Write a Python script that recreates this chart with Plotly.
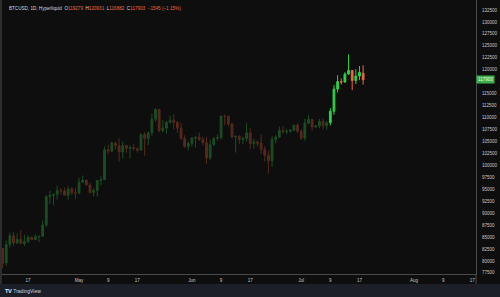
import plotly.graph_objects as go
import pandas as pd

dates = pd.date_range("2025-04-10", "2025-07-18", freq="D").strftime("%Y-%m-%d").tolist()

opens = [82580, 79600, 83420, 85280, 83740, 84540, 83630, 84030, 84940, 84450,
         85060, 85170, 87520, 93440, 93700, 93950, 94720, 94650, 93750, 95040,
         94260, 94170, 96490, 96910, 95890, 94310, 94750, 96830, 97030, 103240,
         102970, 104660, 104120, 102810, 104170, 103540, 103740, 103490, 103170, 106450,
         105600, 106790, 109660, 111690, 107290, 107800, 108990, 109440, 108960, 107790,
         105640, 103980, 104610, 105700, 105890, 105410, 104730, 101540, 104350, 105640,
         105760, 110290, 110240, 108670, 105930, 106100, 105430, 105600, 106800, 104570,
         104880, 104650, 103300, 102120, 100960, 105400, 105910, 107320, 107000, 107110,
         107350, 108380, 107140, 105700, 108850, 109620, 108020, 108240, 109210, 108290,
         108940, 111310, 115950, 117520, 117420, 119090, 119840, 117740, 118680, 119279]
highs = [82700, 84250, 85900, 86100, 85800, 86500, 85500, 85450, 85100, 85600,
         85300, 88460, 93820, 94690, 94000, 95760, 95250, 95350, 95620, 95460,
         95250, 97420, 97880, 96950, 96300, 95200, 96900, 97700, 104000, 104300,
         104970, 104940, 105720, 104980, 104280, 104150, 104530, 103710, 106630, 107000,
         107100, 110780, 111970, 111800, 109500, 109300, 110400, 110720, 109300, 108890,
         106300, 104980, 105880, 105960, 106850, 106000, 105930, 105370, 105960, 106490,
         110450, 110590, 110390, 108800, 106180, 106220, 105990, 108900, 107770, 105570,
         105200, 106500, 104040, 103000, 106090, 106300, 108100, 108230, 107660, 107580,
         108520, 108790, 107540, 109770, 110570, 109740, 108420, 109740, 109720, 109220,
         111950, 116800, 118850, 118200, 119470, 123220, 119940, 120090, 120780, 120931]
lows = [78450, 78950, 82770, 83050, 83680, 83600, 83100, 83750, 84350, 84350,
        83950, 85140, 87080, 91940, 91660, 92880, 93900, 93600, 92800, 93750,
        92900, 94110, 96340, 95780, 94140, 93520, 93420, 95800, 96890, 102340,
        102830, 103360, 100780, 101460, 102660, 101390, 103120, 102640, 103100, 102050,
        104220, 106150, 109180, 106880, 106880, 106630, 108700, 107570, 106850, 105350,
        103650, 103130, 103910, 103730, 105090, 104170, 100380, 101170, 103990, 105080,
        105380, 108360, 108160, 105650, 102680, 104410, 104510, 104970, 103380, 103520,
        103900, 102330, 100850, 98250, 99640, 104600, 105760, 106600, 106500, 106820,
        107200, 106750, 105270, 105150, 108600, 107280, 107800, 107820, 107500, 107460,
        108360, 110600, 115230, 116920, 117260, 118920, 115740, 117010, 117830, 116882]
closes = [79600, 83420, 85280, 83740, 84540, 83630, 84030, 84940, 84450, 85060,
          85170, 87520, 93440, 93700, 93950, 94720, 94650, 93750, 95040, 94260,
          94170, 96490, 96910, 95890, 94310, 94750, 96830, 97030, 103240, 102970,
          104660, 104120, 102810, 104170, 103540, 103740, 103490, 103170, 106450, 105600,
          106790, 109660, 111690, 107290, 107800, 108990, 109440, 108960, 107790, 105640,
          103980, 104610, 105700, 105890, 105410, 104730, 101540, 104350, 105640, 105760,
          110290, 110240, 108670, 105930, 106100, 105430, 105600, 106800, 104570, 104880,
          104650, 103300, 102120, 100960, 105400, 105910, 107320, 107000, 107110, 107350,
          108380, 107140, 105700, 108850, 109620, 108020, 108240, 109210, 108290, 108940,
          111310, 115950, 117520, 117420, 119090, 119840, 117740, 118680, 119448, 117903]

x_tickvals = ["2025-04-17", "2025-05-01", "2025-05-09", "2025-05-17", "2025-06-01",
              "2025-06-09", "2025-06-17", "2025-07-01", "2025-07-09", "2025-07-17",
              "2025-08-01", "2025-08-09", "2025-08-17"]
x_ticktext = ["17", "May", "9", "17", "Jun", "9", "17", "Jul", "9", "17", "Aug", "9", "17"]
y_tickvals = [v for v in range(77500, 132501, 2500) if v != 117500]  # 117500 hidden under price label
y_ticktext = [str(v) for v in y_tickvals]

title_parts = [("BTCUSD, 1D, Hyperliquid  ", "#d1d4dc"),
               ("O", "#d1d4dc"), ("119279  ", "#f0653f"),
               ("H", "#d1d4dc"), ("120931  ", "#f0653f"),
               ("L", "#d1d4dc"), ("116882  ", "#f0653f"),
               ("C", "#d1d4dc"), ("117903  −1545 (−1.15%)", "#f0653f")]

split = 90  # index where bright (recent) candles start (Jul 9)

BG = "#0e0e0e"
FONT = "Liberation Sans, Arial, sans-serif"

fig = go.Figure()
fig.add_trace(go.Candlestick(
    x=dates[:split], open=opens[:split], high=highs[:split], low=lows[:split], close=closes[:split],
    increasing=dict(line=dict(color="#1b4d23", width=1), fillcolor="#1b4d23"),
    decreasing=dict(line=dict(color="#56291e", width=1), fillcolor="#56291e"),
    whiskerwidth=0, showlegend=False, hoverinfo="skip"))
fig.add_trace(go.Candlestick(
    x=dates[split:], open=opens[split:], high=highs[split:], low=lows[split:], close=closes[split:],
    increasing=dict(line=dict(color="#2bd14a", width=1), fillcolor="#2bd14a"),
    decreasing=dict(line=dict(color="#f0653f", width=1), fillcolor="#f0653f"),
    whiskerwidth=0, showlegend=False, hoverinfo="skip"))

title_html = "".join(f'<span style="color:{c}">{t}</span>' for t, c in title_parts)

fig.update_layout(
    width=500, height=297,
    margin=dict(l=0, r=24, t=0, b=23),
    paper_bgcolor=BG, plot_bgcolor=BG,
    font=dict(family=FONT, size=5, color="#c8c8c8"),
    xaxis=dict(
        type="date", range=["2025-04-09 07:00", "2025-08-18"],
        rangeslider=dict(visible=False),
        tickmode="array", tickvals=x_tickvals, ticktext=x_ticktext,
        showgrid=False, zeroline=False, showline=True, linecolor="#4a4a4a", linewidth=1,
        ticks="", tickfont=dict(size=4.5, color="#c8c8c8"), ticklabelstandoff=2,
    ),
    yaxis=dict(
        side="right", range=[77270, 134590],
        tickmode="array", tickvals=y_tickvals, ticktext=y_ticktext,
        showgrid=False, zeroline=False, showline=True, linecolor="#4a4a4a", linewidth=1,
        ticks="", tickfont=dict(size=4.5, color="#c8c8c8"), ticklabelstandoff=4,
    ),
    shapes=[
        dict(type="rect", xref="paper", yref="paper", x0=-0.01, x1=1.06, y0=-0.0365, y1=-0.09,
             fillcolor="#1c1f27", line=dict(width=0), layer="below"),
        dict(type="line", xref="paper", yref="paper", x0=1, x1=1, y0=0, y1=-0.0365,
             line=dict(color="#4a4a4a", width=1)),
        dict(type="line", xref="paper", yref="paper", x0=0.002, x1=0.002, y0=1, y1=-0.0365,
             line=dict(color="#2e2e2e", width=2)),
    ],
    annotations=[
        dict(xref="paper", yref="paper", x=0.0147, y=0.97, xanchor="left", yanchor="middle",
             text=title_html, showarrow=False, font=dict(size=4.6, family=FONT)),
        dict(xref="paper", yref="y", x=1.0, y=closes[-1], xanchor="left", yanchor="middle",
             text=str(closes[-1]), showarrow=False, bgcolor="#3fae4a",
             font=dict(size=4.5, color="#e8ffe8", family=FONT), borderpad=1),
        dict(xref="paper", yref="paper", x=0.006, y=-0.0615, xanchor="left", yanchor="middle",
             text="<b>𝗧𝗩</b> TradingView", showarrow=False,
             font=dict(size=5, color="#d1d4dc", family=FONT)),
    ],
)

fig.write_html("out.html")
